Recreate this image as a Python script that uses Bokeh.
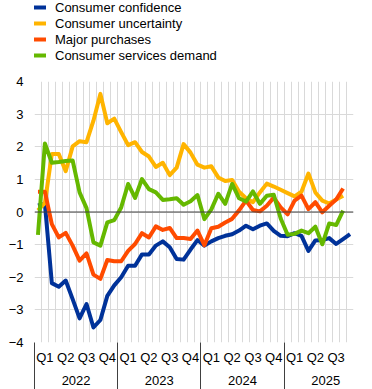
from bokeh.plotting import figure
from bokeh.layouts import column
from bokeh.models import FixedTicker, LinearAxis, Range1d, Span, Legend, LegendItem
from bokeh.embed import file_html
from bokeh.resources import INLINE
import numpy as np

# ---- data (monthly, Jan 2022 onwards) ----
months = ["2022-01", "2022-02", "2022-03", "2022-04", "2022-05", "2022-06", "2022-07", "2022-08",
          "2022-09", "2022-10", "2022-11", "2022-12", "2023-01", "2023-02", "2023-03", "2023-04",
          "2023-05", "2023-06", "2023-07", "2023-08", "2023-09", "2023-10", "2023-11", "2023-12",
          "2024-01", "2024-02", "2024-03", "2024-04", "2024-05", "2024-06", "2024-07", "2024-08",
          "2024-09", "2024-10", "2024-11", "2024-12", "2025-01", "2025-02", "2025-03", "2025-04",
          "2025-05", "2025-06", "2025-07", "2025-08", "2025-09", "2025-10"]

consumer_confidence = [0.20, 0.25, -2.18, -2.29, -2.10, -2.67, -3.26, -2.82, -3.54, -3.31, -2.57, -2.25,
                       -2.00, -1.65, -1.65, -1.30, -1.30, -1.03, -0.90, -1.08, -1.44, -1.46, -1.15, -0.86,
                       -1.03, -0.90, -0.80, -0.73, -0.68, -0.57, -0.42, -0.53, -0.42, -0.35, -0.58, -0.73,
                       -0.74, -0.65, -0.73, -1.19, -0.87, -0.86, -0.80, -0.98, -0.83, -0.68]

consumer_uncertainty = [0.05, 0.28, 1.78, 1.78, 1.25, 2.01, 2.17, 2.14, 2.80, 3.62, 2.72, 2.86,
                        2.45, 2.05, 2.14, 1.84, 1.70, 1.38, 1.51, 1.13, 1.36, 2.08, 1.82, 1.45,
                        1.36, 1.40, 1.06, 0.95, 0.98, 0.62, 0.42, 0.30, 0.60, 0.87, 0.78, 0.68,
                        0.58, 0.48, 0.62, 1.18, 0.60, 0.35, 0.26, 0.38, 0.50]

major_purchases = [0.62, 0.62, -0.37, -0.78, -0.64, -1.03, -1.49, -1.27, -1.92, -2.05, -1.47, -1.51,
                   -1.51, -1.19, -0.98, -0.65, -0.78, -0.44, -0.55, -0.49, -0.80, -0.80, -0.83, -0.57,
                   -1.02, -0.50, -0.45, -0.32, -0.21, 0.05, 0.35, 0.06, 0.02, 0.19, 0.44, 0.14,
                   -0.07, 0.35, 0.50, 0.09, 0.30, -0.01, 0.19, 0.38, 0.72]

services_demand = [-0.70, 2.10, 1.51, 1.53, 1.56, 1.58, 0.60, 0.12, -0.93, -1.03, -0.32, -0.25,
                   0.14, 0.86, 0.43, 1.01, 0.70, 0.60, 0.37, 0.39, 0.42, 0.22, 0.33, 0.52,
                   -0.22, 0.08, 0.56, 0.25, 0.86, 0.42, 0.32, 0.63, 0.25, 0.50, 0.53, -0.20,
                   -0.70, -0.67, -0.57, -0.65, -0.45, -0.99, -0.35, -0.40, 0.04]

series_names = ["Consumer confidence", "Consumer uncertainty", "Major purchases",
                "Consumer services demand"]
series_colors = ["#003299", "#ffb400", "#ff4b00", "#65b800"]

quarter_labels = ["Q1", "Q2", "Q3", "Q4", "Q1", "Q2", "Q3", "Q4",
                  "Q1", "Q2", "Q3", "Q4", "Q1", "Q2", "Q3"]
year_labels = ["2022", "2023", "2024", "2025"]
y_ticks = [-4, -3, -2, -1, 0, 1, 2, 3, 4]

FONT = "Liberation Sans"
TXT = "#000000"
n_months = len(months)
all_series = [consumer_confidence, consumer_uncertainty, major_purchases, services_demand]

# ---------------- legend strip ----------------
LEG_H = 73
lf = figure(width=372, height=LEG_H, x_range=Range1d(0, n_months), y_range=Range1d(100, 101),
            x_axis_type=None, y_axis_type=None, output_backend="svg",
            toolbar_location=None, min_border=0)
lf.title.visible = False
lf.outline_line_color = None
lf.grid.visible = False
items = []
for name, color, vals in zip(series_names, series_colors, all_series):
    # proxy renderer (out of view) that only feeds the legend swatch
    r = lf.line(np.arange(len(vals)) + 0.5, vals, line_color=color, line_width=4)
    items.append(LegendItem(label=name, renderers=[r]))
legend = Legend(items=items, location=(-1, 10), glyph_width=13, glyph_height=16,
                label_height=16, spacing=0, padding=0, margin=0, label_standoff=9,
                label_text_font=FONT, label_text_font_size="13px", label_text_color=TXT,
                border_line_color=None, background_fill_alpha=0)
lf.add_layout(legend)

# ---------------- main chart ----------------
p = figure(width=372, height=389 - LEG_H,
           x_range=lf.x_range, y_range=Range1d(-4, 4),
           output_backend="svg", toolbar_location=None,
           min_border_left=34, min_border_right=19,
           min_border_top=8, min_border_bottom=47)
p.title.visible = False
p.outline_line_color = None
p.background_fill_color = "white"

# grids
p.xgrid.ticker = FixedTicker(ticks=list(range(0, n_months + 1)))
p.xgrid.grid_line_color = "#d9d9d9"
p.xgrid.grid_line_width = 1
p.ygrid.ticker = FixedTicker(ticks=y_ticks)
p.ygrid.grid_line_color = "#d9d9d9"
p.ygrid.grid_line_width = 1

p.add_layout(Span(location=0, dimension="width", line_color="#404040", line_width=1))

# y axis
ya = p.yaxis[0]
ya.ticker = FixedTicker(ticks=y_ticks)
ya.axis_line_color = None
ya.major_tick_line_color = None
ya.minor_tick_line_color = None
ya.major_tick_out = 0
ya.major_tick_in = 0
ya.minor_tick_out = 0
ya.minor_tick_in = 0
ya.major_label_standoff = 11
ya.major_label_text_font = FONT
ya.major_label_text_font_size = "13px"
ya.major_label_text_color = TXT

# x axis: quarter labels, with year separators drawn as long minor ticks
q_pos = [1.5 + 3 * k for k in range(len(quarter_labels))]
y_bounds = [12 * k for k in range(len(year_labels))]
SEP_LEN = 48
xa = p.xaxis[0]
xa.ticker = FixedTicker(ticks=q_pos, minor_ticks=y_bounds)
xa.major_label_overrides = {q: lab for q, lab in zip(q_pos, quarter_labels)}
xa.axis_line_color = None
xa.major_tick_line_color = None
xa.major_tick_out = 0
xa.major_tick_in = 0
xa.minor_tick_in = 0
xa.minor_tick_out = SEP_LEN
xa.minor_tick_line_color = "#404040"
xa.minor_tick_line_width = 1
xa.major_label_standoff = 7 - SEP_LEN
xa.major_label_text_font = FONT
xa.major_label_text_font_size = "13px"
xa.major_label_text_color = TXT

# x axis: years
yr_pos = [6 + 12 * k for k in range(len(year_labels))]
year_axis = LinearAxis(ticker=FixedTicker(ticks=yr_pos),
                       major_label_overrides={yp: lab for yp, lab in zip(yr_pos, year_labels)},
                       axis_line_color=None, major_tick_line_color=None,
                       minor_tick_line_color=None, major_tick_out=0, major_tick_in=0,
                       minor_tick_out=0, minor_tick_in=0,
                       major_label_standoff=8, major_label_text_font=FONT,
                       major_label_text_font_size="13px", major_label_text_color=TXT)
p.add_layout(year_axis, "below")

# lines
for name, color, vals in zip(series_names, series_colors, all_series):
    x = np.arange(len(vals)) + 0.5
    p.line(x, vals, line_color=color, line_width=4, line_join="round")

layout = column(lf, p, spacing=0)
open("out.html", "w").write(file_html(layout, INLINE))
